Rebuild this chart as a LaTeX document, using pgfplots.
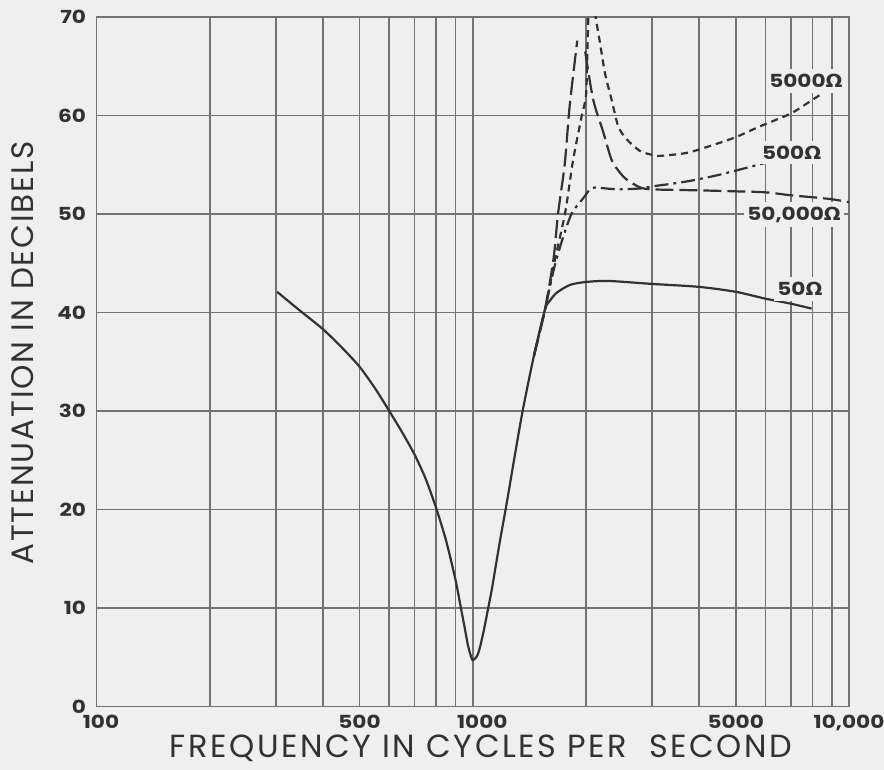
\documentclass[border=0pt]{standalone}
\usepackage{fontspec}
\setmainfont{Poppins}
\newfontfamily\labelfont[LetterSpace=8]{Poppins}
\newfontfamily\ylabelfont[LetterSpace=6]{Poppins}
\newfontfamily\tickfont[FakeStretch=1.2]{Poppins}
\newfontfamily\omfont[FakeStretch=1.1]{DejaVu Sans}
\usepackage{pgfplots}
\pgfplotsset{compat=1.18}
\definecolor{paper}{RGB}{239,239,239}
\definecolor{gridc}{RGB}{115,115,115}
\definecolor{ink}{RGB}{50,50,50}
\newcommand{\ohm}{{\omfont\bfseries Ω}}
\begin{document}
\begin{tikzpicture}
\path[fill=paper, use as bounding box] (-96.5pt,-63.5pt) rectangle (787.5pt,706.5pt);
\begin{axis}[
    scale only axis,
    width=752.5pt, height=689.5pt,
    xmode=log,
    xmin=100, xmax=10000,
    ymin=0, ymax=70,
    xtick={100,500,1000,5000,10000},
    xticklabels={\hspace{9pt}100,500,\hspace{19pt}1000,5000,{10,000}},
    minor xtick={200,300,400,600,700,800,900,2000,3000,4000,6000,7000,8000,9000},
    ytick={0,10,20,30,40,50,60,70},
    yticklabels={0,10,20,30,40,50,60,70},
    grid=both,
    major tick length=0pt, minor tick length=0pt,
    axis line style={gridc, line width=1.7pt},
    grid style={gridc, line width=1.7pt},
    minor grid style={gridc, line width=1.7pt},
    tick label style={font=\tickfont\bfseries\fontsize{18}{18}\selectfont, text=ink},
    xticklabel style={yshift=-5pt},
    yticklabel style={xshift=-7pt},
    xlabel={FREQUENCY IN CYCLES PER\ \ SECOND},
    ylabel={ATTENUATION IN DECIBELS},
    every axis x label/.style={at={(axis description cs:0.511,-0.060)}, anchor=center, inner sep=0pt,
        font=\labelfont\fontsize{32}{32}\selectfont, text=ink},
    every axis y label/.style={at={(axis description cs:-0.0977,0.513)}, rotate=90, anchor=center,
        font=\ylabelfont\fontsize{31}{31}\selectfont, text=ink},
    every axis plot/.append style={ink, line width=2.2pt, smooth, tension=0.45},
]
% 50 ohm
\addplot[solid] coordinates {
    (302,42.1) (347,40.2) (400,38.3) (450,36.4) (500,34.5) (550,32.3)
    (600,30.0) (650,27.8) (700,25.6) (750,23.1) (800,20.1) (850,16.8)
    (900,12.85) (930,10.0) (953,7.9) (971,6.2) (989,5.1) (1000,4.7)
    (1026,5.1) (1045,6.0) (1071,7.8) (1098,9.9) (1125,12.0) (1181,16.8)
    (1233,20.8) (1295,25.6) (1360,30.2) (1454,35.6) (1556,40.3)
    (1604,41.2) (1671,42.0) (1813,42.8) (2000,43.1) (2300,43.2) (3000,42.9)
    (4000,42.6) (5000,42.1) (6000,41.4) (7000,40.9) (7950,40.4)
};
% 50,000 ohm
\addplot[dash pattern=on 18pt off 6pt] coordinates {
    (1454,35.6) (1556,40.3) (1640,45.5) (1685,50.0) (1755,55.0) (1810,61.0) (1896,67.6)
};
\addplot[dash pattern=on 18pt off 6pt] coordinates {
    (1990,66.5) (2090,61.6) (2223,58.3) (2339,55.5) (2461,54.2) (2564,53.5)
    (2782,52.7) (3000,52.5) (4000,52.4) (5000,52.3) (6000,52.2) (7000,51.9)
    (8000,51.7) (9000,51.5) (10000,51.2)
};
% 5000 ohm
\addplot[dash pattern=on 7pt off 5pt] coordinates {
    (1454,35.6) (1556,40.3) (1650,45.2) (1758,50.0) (1831,54.5) (1869,56.5)
    (1947,59.9) (2000,62.0) (2015,66.0) (2030,70.5)
};
\addplot[dash pattern=on 7pt off 5pt] coordinates {
    (2110,70.5) (2178,67.4) (2246,64.3) (2339,61.6) (2436,58.9) (2564,57.6)
    (2782,56.4) (3000,56.0) (3145,55.9) (3700,56.2) (4270,56.9) (5000,57.8)
    (5800,58.9) (7000,60.2) (8000,61.6) (8540,62.3)
};
% 500 ohm
\addplot[dash pattern=on 14pt off 5pt on 3pt off 5pt] coordinates {
    (1454,35.6) (1556,40.3) (1645,44.5) (1740,47.7) (1835,50.1) (1966,51.6)
    (2049,52.5) (2120,52.7) (2250,52.6) (2450,52.5) (2800,52.6) (3000,52.8)
    (3700,53.3) (4540,54.0) (6000,55.2)
};
\begin{scope}[every node/.style={fill=paper, inner xsep=3pt, inner ysep=5pt,
        font=\tickfont\bfseries\fontsize{18}{18}\selectfont, text=ink}]
\node at (axis cs:7683,63.5) {5000\ohm};
\node at (axis cs:7039,56.25) {500\ohm};
\node at (axis cs:7146,49.95) {50,000\ohm};
\node at (axis cs:7405,42.4) {50\ohm};
\end{scope}
\end{axis}
\end{tikzpicture}
\end{document}
